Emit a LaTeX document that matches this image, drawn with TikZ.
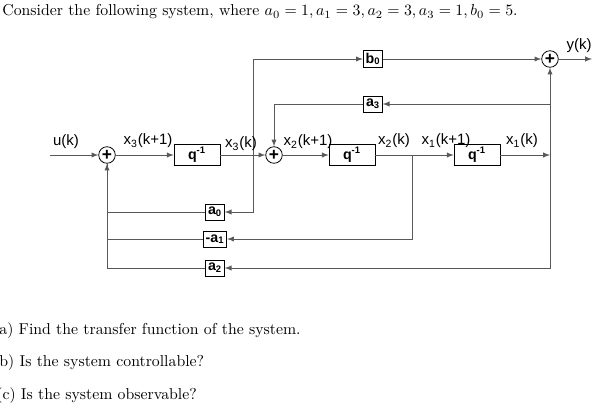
\documentclass[tikz,border=0pt]{standalone}
\usepackage{amsmath}
\usepackage{fontspec}
\newfontfamily\diagfont{Liberation Sans}
\usetikzlibrary{positioning}
\begin{document}
\begin{tikzpicture}[x=0.633pt, y=-0.633pt, > = latex, line width=0.5pt]
    \tikzstyle{block}=[draw, fill=white, font=\diagfont\bfseries\fontsize{9}{9}\selectfont, inner sep=1.5pt, minimum height=10pt]
    \tikzstyle{sum}=[circle, draw, inner sep=0pt, minimum size=10.5pt, font=\diagfont\bfseries\fontsize{11}{11}\selectfont]
    \tikzstyle{lbl}=[font=\diagfont\fontsize{9.5}{10}\selectfont, inner sep=0pt]
    \tikzstyle{sig}=[gray!70!black]
    \useasboundingbox (0,0) rectangle (603,410);

    % Texte
    \node[anchor=west, inner sep=0pt] at (2,12) {Consider the following system, where $a_0=1, a_1=3, a_2=3, a_3=1, b_0=5$.};
    \node[anchor=west, inner sep=0pt] at (-1,331) {a) Find the transfer function of the system.};
    \node[anchor=west, inner sep=0pt] at (-1,363) {b) Is the system controllable?};
    \node[anchor=west, inner sep=0pt] at (-4,396) {(c) Is the system observable?};

    % Blocos
    \node[sum] (s1) at (107,155) {+};
    \node[sum] (s2) at (274,155) {+};
    \node[sum] (s3) at (550,59) {+};
    \node[block, minimum width=29pt] (q1) at (197,155) {q$^{\text{-1}}$};
    \node[block, minimum width=29pt] (q2) at (352,155) {q$^{\text{-1}}$};
    \node[block, minimum width=29pt] (q3) at (477,155) {q$^{\text{-1}}$};
    \node[block] (b0) at (373,59) {b$_\text{0}$};
    \node[block] (a3) at (373,104) {a$_\text{3}$};
    \node[block] (a0) at (215,212) {a$_\text{0}$};
    \node[block] (a1) at (215,239) {-a$_\text{1}$};
    \node[block] (a2) at (215,268) {a$_\text{2}$};

    \coordinate (in) at (50,155);
    \coordinate (j3) at (253,155);
    \coordinate (j2) at (412,155);
    \coordinate (j1) at (550,155);
    \coordinate (out) at (592,59);

    % Ligações
    \draw[sig,->] (in) -- (s1);
    \draw[sig,->] (s1) -- (q1);
    \draw[sig,->] (q1) -- (s2);
    \draw[sig,->] (s2) -- (q2);
    \draw[sig,->] (q2) -- (q3);
    \draw[sig,->] (q3) -- (j1);
    \draw[sig,->] (j3) |- (b0);
    \draw[sig,->] (b0) -- (s3);
    \draw[sig,->] (s3) -- (out);
    \draw[sig,->] (j1) -- (s3);
    \draw[sig,->] (550,104) -- (a3);
    \draw[sig,->] (a3) -| (s2);
    \draw[sig,->] (j3) |- (a0);
    \draw[sig,->] (j2) |- (a1);
    \draw[sig,->] (j1) |- (a2);
    \draw[sig] (a0) -| (s1.south);
    \draw[sig] (a1) -| (s1.south);
    \draw[sig,->] (a2) -| (s1);

    % Rótulos
    \node[lbl] at (66,142) {u(k)};
    \node[lbl] at (148,141) {x$_\text{3}$(k+1)};
    \node[lbl] at (241,144) {x$_\text{3}$(k)};
    \node[lbl] at (308,142) {x$_\text{2}$(k+1)};
    \node[lbl] at (394,141) {x$_\text{2}$(k)};
    \node[lbl] at (446,141) {x$_\text{1}$(k+1)};
    \node[lbl] at (522,141) {x$_\text{1}$(k)};
    \node[lbl] at (579,46) {y(k)};
\end{tikzpicture}
\end{document}
